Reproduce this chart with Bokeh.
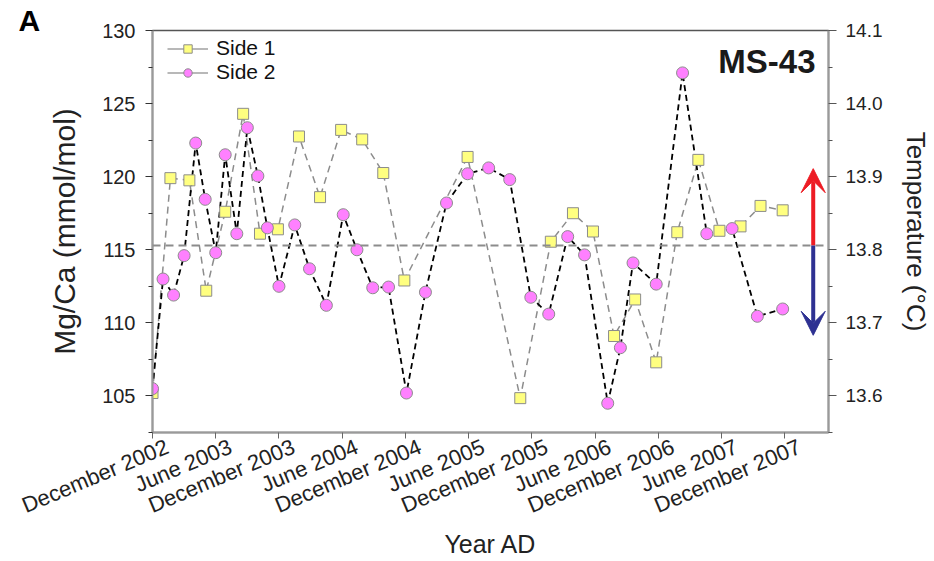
from bokeh.plotting import figure
from bokeh.models import (Range1d, LinearAxis, FixedTicker, Span, Arrow, VeeHead,
                          Label, Legend, LegendItem, NumeralTickFormatter)
from bokeh.embed import file_html
from bokeh.resources import INLINE

# ---------------- data (x = months after December 2002) ----------------
side1_month = [0, 1.7, 3.5, 5.1, 6.9, 8.6, 10.2, 11.9, 13.9, 15.9, 17.9, 19.9, 21.9, 23.9,
               29.9, 34.9, 37.8, 39.9, 41.8, 43.8, 45.8, 47.8, 49.8, 51.8, 53.8, 55.8, 57.7, 59.8]
side1_mgca = [105.2, 119.9, 119.75, 112.2, 117.6, 124.3, 116.1, 116.4, 122.75, 118.6, 123.2,
              122.55, 120.25, 112.9, 121.35, 104.85, 115.55, 117.5, 116.25, 109.1, 111.6, 107.3,
              116.2, 121.15, 116.3, 116.6, 118.0, 117.7]

side2_month = [0, 1.0, 2.0, 3.0, 4.1, 5.0, 6.0, 6.9, 8.0, 9.0, 10.0, 10.9, 12.0, 13.5, 14.9,
               16.5, 18.1, 19.4, 20.9, 22.4, 24.1, 25.9, 27.9, 29.9, 31.9, 33.9, 35.9, 37.6,
               39.4, 41.0, 43.2, 44.4, 45.6, 47.8, 50.3, 52.6, 55.0, 57.4, 59.8]
side2_mgca = [105.5, 113.0, 111.9, 114.6, 122.3, 118.45, 114.8, 121.5, 116.1, 123.35, 120.05,
              116.5, 112.5, 116.7, 113.7, 111.2, 117.4, 115.0, 112.4, 112.45, 105.2, 112.1,
              118.2, 120.2, 120.6, 119.8, 111.75, 110.6, 115.9, 114.65, 104.5, 108.3, 114.1,
              112.65, 127.1, 116.1, 116.45, 110.45, 110.95]

x_tick_months = [0, 6, 12, 18, 24, 30, 36, 42, 48, 54, 60]
x_tick_labels = ["December 2002", "June 2003", "December 2003", "June 2004", "December 2004",
                 "June 2005", "December 2005", "June 2006", "December 2006", "June 2007",
                 "December 2007"]
mgca_ticks = [105, 110, 115, 120, 125, 130]
mgca_minor = [102.5, 107.5, 112.5, 117.5, 122.5, 127.5]
temp_ticks = [13.6, 13.7, 13.8, 13.9, 14.0, 14.1]
temp_minor = [13.55, 13.65, 13.75, 13.85, 13.95, 14.05]
mean_mgca = 115.3
mean_temp = 13.806
warm_temp = 13.911
cool_temp = 13.683
arrow_month = 62.7
label_shift = 1.4  # horizontal nudge of the slanted date labels (months)

FONT = "Liberation Sans"
GRAY = "#8c8c8c"
AXIS_GRAY = "#9a9a9a"
TXT = "#222222"

p = figure(width=934, height=561, output_backend="svg", toolbar_location=None,
           x_range=Range1d(0, 64.15), y_range=Range1d(102.5, 130),
           min_border_left=152, min_border_right=102, min_border_top=30, min_border_bottom=128,
           y_axis_label="Mg/Ca (mmol/mol)")
p.grid.visible = False
p.outline_line_color = "#555555"
p.outline_line_width = 1.5
p.background_fill_color = "white"
p.border_fill_color = "white"
p.extra_y_ranges = {"temp": Range1d(13.55, 14.1)}

# panel letter as title
p.title.text = "A"
p.title.align = "left"
p.title.offset = -134
p.title.text_font = FONT
p.title.text_font_size = "30px"
p.title.text_font_style = "bold"
p.title.text_color = "black"
p.title.standoff = -12

# x axis: tick marks only (drawn as minor ticks, so no labels)
xa = p.xaxis[0]
xa.ticker = FixedTicker(ticks=[], minor_ticks=x_tick_months)
xa.minor_tick_out = 6
xa.minor_tick_in = 0
xa.minor_tick_line_color = "#666666"
xa.major_label_standoff = 0
xa.axis_line_color = AXIS_GRAY
xa.axis_line_width = 2

# x axis: slanted date labels
xl = LinearAxis(ticker=FixedTicker(ticks=[m + label_shift for m in x_tick_months], minor_ticks=[]),
                axis_label="Year AD")
xl.major_label_overrides = {m + label_shift: s for m, s in zip(x_tick_months, x_tick_labels)}
xl.major_label_orientation = 0.40
xl.major_label_text_font = FONT
xl.major_label_text_font_size = "22px"
xl.major_label_text_color = TXT
xl.major_label_standoff = 7
xl.major_tick_out = 0
xl.major_tick_in = 0
xl.major_tick_line_alpha = 0
xl.axis_line_alpha = 0
xl.axis_label_text_font = FONT
xl.axis_label_text_font_size = "25px"
xl.axis_label_text_font_style = "normal"
xl.axis_label_text_color = TXT
xl.axis_label_standoff = -2
p.add_layout(xl, "below")

# left axis
ya = p.yaxis[0]
ya.ticker = FixedTicker(ticks=mgca_ticks, minor_ticks=mgca_minor)
ya.major_label_text_font = FONT
ya.major_label_text_font_size = "20px"
ya.major_label_text_color = TXT
ya.major_label_standoff = 10
ya.axis_label_text_font = FONT
ya.axis_label_text_font_size = "30px"
ya.axis_label_text_font_style = "normal"
ya.axis_label_text_color = TXT
ya.axis_label_standoff = 18
ya.major_tick_out = 7
ya.major_tick_in = 0
ya.minor_tick_out = 4
ya.minor_tick_in = 0
ya.major_tick_line_color = "#333333"
ya.minor_tick_line_color = "#333333"
ya.axis_line_color = AXIS_GRAY
ya.axis_line_width = 2

# right axis
ra = LinearAxis(y_range_name="temp", axis_label="Temperature (°C)",
                ticker=FixedTicker(ticks=temp_ticks, minor_ticks=temp_minor),
                formatter=NumeralTickFormatter(format="0.0"))
ra.major_label_text_font = FONT
ra.major_label_text_font_size = "19px"
ra.major_label_text_color = TXT
ra.major_label_standoff = 9
ra.axis_label_text_font = FONT
ra.axis_label_text_font_size = "26px"
ra.axis_label_text_font_style = "normal"
ra.axis_label_text_color = TXT
ra.axis_label_standoff = 16
ra.major_tick_out = 8
ra.major_tick_in = 0
ra.minor_tick_out = 4
ra.minor_tick_in = 0
ra.major_tick_line_color = "#555555"
ra.minor_tick_line_color = "#555555"
ra.axis_line_color = AXIS_GRAY
ra.axis_line_width = 2
p.add_layout(ra, "right")

# mean line
p.add_layout(Span(location=mean_mgca, dimension="width", line_color=GRAY,
                  line_width=2, line_dash="8 5"))

# series
p.line(side1_month, side1_mgca, line_color=GRAY, line_width=1.5, line_dash="7 5")
p.line(side2_month, side2_mgca, line_color="black", line_width=1.8, line_dash="6 4")
p.scatter(side1_month, side1_mgca, marker="square", size=11, fill_color="#FFFF80",
          line_color=GRAY, line_width=1)
p.scatter(side2_month, side2_mgca, marker="circle", size=12, fill_color="#FF80FF",
          line_color=GRAY, line_width=1)

# legend proxies
nan = float("nan")
l1 = p.line([nan], [nan], line_color="#a0a0a0", line_width=1.5)
s1 = p.scatter([nan], [nan], marker="square", size=11, fill_color="#FFFF80", line_color=GRAY)
l2 = p.line([nan], [nan], line_color="#a0a0a0", line_width=1.5)
s2 = p.scatter([nan], [nan], marker="circle", size=12, fill_color="#FF80FF", line_color=GRAY)
legend = Legend(items=[LegendItem(label="Side 1", renderers=[l1, s1]),
                       LegendItem(label="Side 2", renderers=[l2, s2])],
                location=(15, 348), padding=0, margin=0, spacing=0,
                glyph_width=41, glyph_height=21, label_height=21, label_standoff=8,
                label_text_font=FONT, label_text_font_size="21px", label_text_color="#111111",
                border_line_alpha=0, background_fill_alpha=0)
p.add_layout(legend)

# arrows
p.add_layout(Arrow(end=VeeHead(size=24, fill_color="#ED1C24", line_color="#ED1C24"),
                   x_start=arrow_month, y_start=mean_temp, x_end=arrow_month, y_end=warm_temp,
                   y_range_name="temp", line_color="#ED1C24", line_width=4))
p.add_layout(Arrow(end=VeeHead(size=24, fill_color="#2E3192", line_color="#2E3192"),
                   x_start=arrow_month, y_start=mean_temp, x_end=arrow_month, y_end=cool_temp,
                   y_range_name="temp", line_color="#2E3192", line_width=4))

# site label
p.add_layout(Label(x=663, y=353, x_units="screen", y_units="screen", text="MS-43",
                   text_align="right", text_font=FONT,
                   text_font_size="33px", text_font_style="bold", text_color="#1a1a1a"))

open("out.html", "w").write(file_html(p, INLINE))
